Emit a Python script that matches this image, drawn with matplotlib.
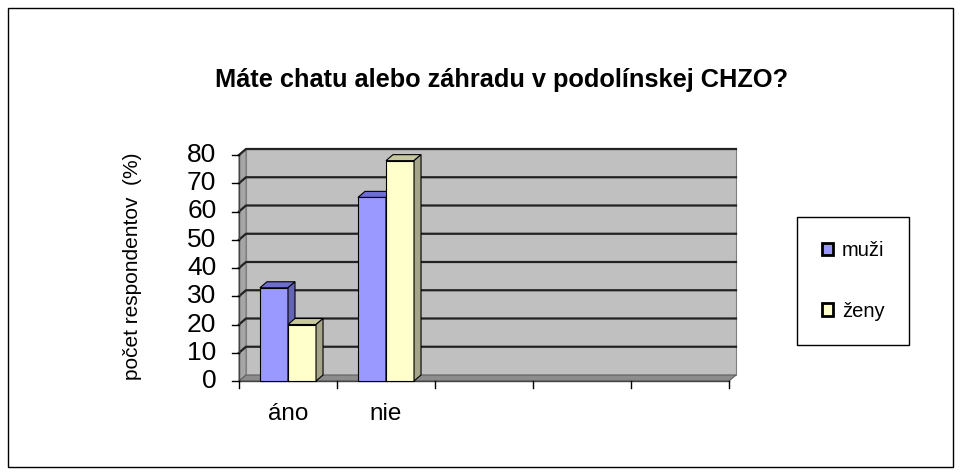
import matplotlib.pyplot as plt
from matplotlib.patches import Polygon, Rectangle, Patch

plt.rcParams['font.family'] = ['Liberation Sans', 'DejaVu Sans']

categories = ['áno', 'nie', '', '', '']
muzi = [33, 65]
zeny = [20, 78]
series_names = ['muži', 'ženy']
yticks = [0, 10, 20, 30, 40, 50, 60, 70, 80]

W, H = 961, 475
fig = plt.figure(figsize=(W / 100, H / 100), dpi=100)
fig.patch.set_facecolor('white')
fig.add_artist(Rectangle((8 / W, 8 / H), 945 / W, 459 / H, transform=fig.transFigure,
                         fill=False, edgecolor='black', lw=1))

# front plane: x 0..5 maps to px 239..729, y 0..80 maps to px 381..155
ax = fig.add_axes([239 / W, 1 - 381 / H, 490 / W, 226 / H])
n = len(categories)
ax.set_xlim(0, n)
ax.set_ylim(0, 80)
ax.axis('off')

# depth offset in data units (~7px right, ~6px up)
dx = 7 / 98
dy = 6 / 226 * 80

def poly(pts, fc, ec='black', lw=0.8, z=1):
    ax.add_patch(Polygon(pts, closed=True, facecolor=fc, edgecolor=ec, lw=lw,
                         zorder=z, clip_on=False))

# walls and floor
poly([(0, 0), (dx, dy), (dx, 80 + dy), (0, 80)], '#a6a6a6', ec='#808080', z=1)
poly([(dx, dy), (n + dx, dy), (n + dx, 80 + dy), (dx, 80 + dy)], '#c0c0c0', ec='#808080', z=1)
poly([(0, 0), (n, 0), (n + dx, dy), (dx, dy)], '#8c8c8c', ec='#606060', z=2)

for y in yticks[1:]:
    ax.plot([0, dx, n + dx], [y, y + dy, y + dy], color='#222222', lw=1.6, zorder=2, clip_on=False)

# front axes
ax.plot([0, 0], [0, 80], color='#444444', lw=1, zorder=5, clip_on=False)
ax.plot([0, n], [0, 0], color='#444444', lw=1, zorder=5, clip_on=False)
for y in yticks:
    ax.plot([-0.07, 0], [y, y], color='black', lw=1, zorder=5, clip_on=False)
    ax.text(-0.23, y, str(y), ha='right', va='center', fontsize=19)
for i in range(n + 1):
    ax.plot([i, i], [0, -2.5], color='black', lw=1, zorder=5, clip_on=False)
for i, c in enumerate(categories):
    ax.text(i + 0.5, -11.7, c, ha='center', va='center', fontsize=17.5)

# bars
bw = 0.286
colors = [('#9999ff', '#6e6ed2', '#6464b4'), ('#ffffcc', '#c8c8a0', '#a5a58a')]
for s, vals in enumerate([muzi, zeny]):
    front, top, side = colors[s]
    for i, v in enumerate(vals):
        x0 = i + 0.5 - bw + s * bw
        x1 = x0 + bw
        poly([(x0, 0), (x1, 0), (x1, v), (x0, v)], front, z=6 + s)
        poly([(x0, v), (x1, v), (x1 + dx, v + dy), (x0 + dx, v + dy)], top, z=6 + s)
        poly([(x1, 0), (x1 + dx, dy), (x1 + dx, v + dy), (x1, v)], side, z=6 + s)

fig.text(502 / W, 1 - 80 / H, 'Máte chatu alebo záhradu v podolínskej CHZO?',
         ha='center', va='center', fontsize=18.3, fontweight='bold')
fig.text(133 / W, 1 - 266 / H, 'počet respondentov  (%)', rotation=90,
         ha='center', va='center', fontsize=15)

handles = [Patch(facecolor=colors[0][0], edgecolor='black', lw=2),
           Patch(facecolor=colors[1][0], edgecolor='black', lw=2)]
leg = fig.legend(handles=handles, labels=series_names, loc='center',
                 bbox_to_anchor=(853 / W, 1 - 281 / H), fontsize=14.5,
                 frameon=True, fancybox=False, edgecolor='black', framealpha=1,
                 handlelength=0.55, handleheight=0.55, handletextpad=0.45,
                 labelspacing=2.05, borderpad=1.2, borderaxespad=0)
leg.get_frame().set_linewidth(1)

fig.savefig('out.png', dpi=100)
